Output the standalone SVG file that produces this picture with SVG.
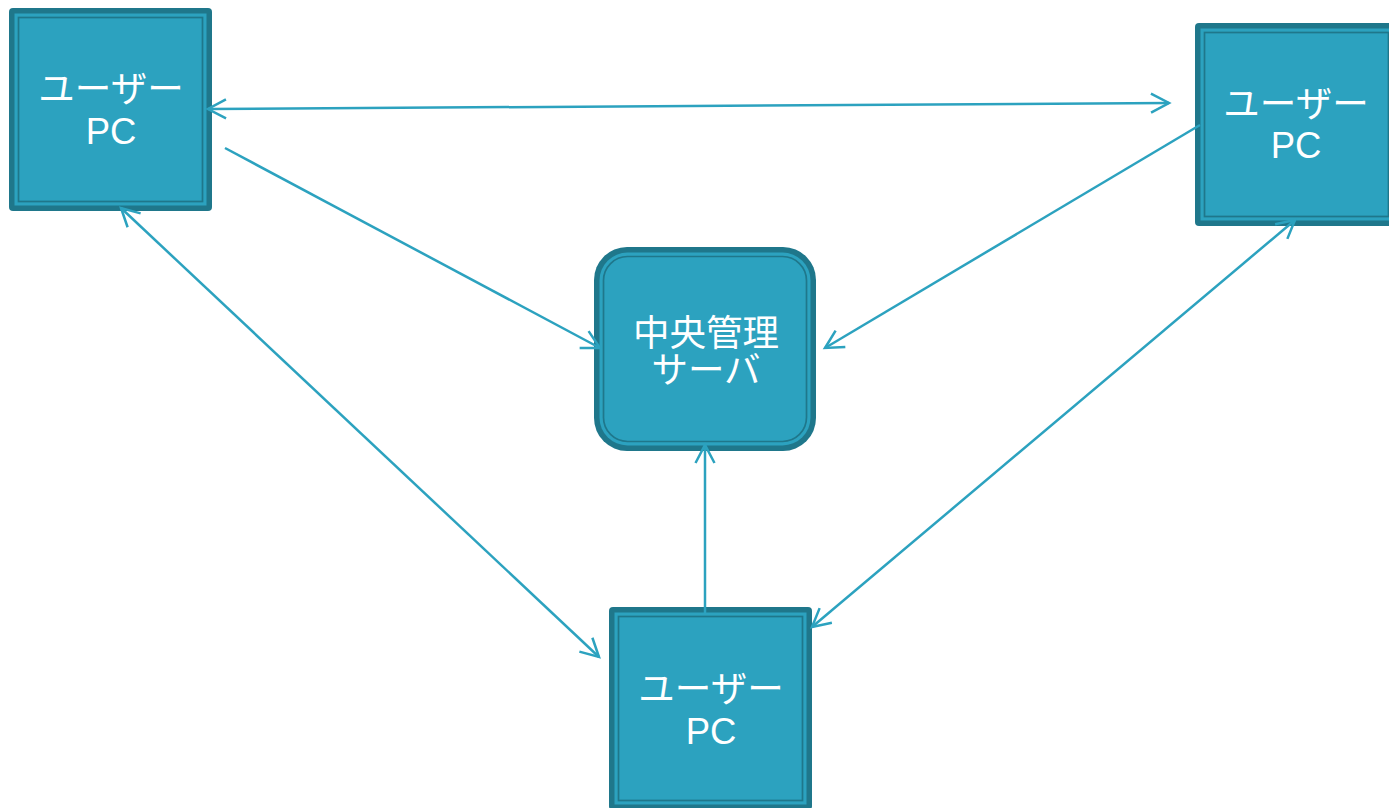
<svg xmlns="http://www.w3.org/2000/svg" width="1389" height="808" viewBox="0 0 1389 808">
<style>
.o{fill:#1f778b}
.m{fill:#2ca2bf}
.i{fill:#2ca2bf;stroke:#1f778b;stroke-width:1.7}
.t{font-family:"Liberation Sans","Noto Sans CJK JP",sans-serif;font-size:36.5px;fill:#ffffff;text-anchor:middle}
.c{fill:none;stroke:#2ca2bf;stroke-width:2.5}
</style>
<defs>
<marker id="a" viewBox="-21 -12 24 24" refX="0" refY="0" markerWidth="24" markerHeight="24" markerUnits="userSpaceOnUse" orient="auto-start-reverse">
<path d="M-18,-9.5 L0,0 L-18,9.5" fill="none" stroke="#2ca2bf" stroke-width="2.5"/>
</marker>
</defs>
<rect width="1389" height="808" fill="#ffffff"/>
<g id="pc-top-left">
<rect class="o" x="9" y="8" width="203" height="203" rx="4"/>
<rect class="m" x="14.5" y="13.5" width="192" height="192"/>
<rect class="i" x="18.5" y="17.5" width="184" height="184"/>
<text class="t" x="111" y="102">ユーザー</text>
<text class="t" x="111" y="144">PC</text>
</g>
<g id="pc-top-right">
<rect class="o" x="1195" y="23" width="203" height="203" rx="4"/>
<rect class="m" x="1200.5" y="28.5" width="192" height="192"/>
<rect class="i" x="1204.5" y="32.5" width="184" height="184"/>
<text class="t" x="1296" y="117">ユーザー</text>
<text class="t" x="1296" y="158">PC</text>
</g>
<g id="pc-bottom">
<rect class="o" x="609" y="607" width="203" height="203" rx="4"/>
<rect class="m" x="614.5" y="612.5" width="192" height="192"/>
<rect class="i" x="618.5" y="616.5" width="184" height="184"/>
<text class="t" x="711" y="702">ユーザー</text>
<text class="t" x="711" y="744">PC</text>
</g>
<g id="server">
<rect class="o" x="594" y="247" width="222" height="204" rx="33"/>
<rect class="m" x="599.5" y="252.5" width="211" height="193" rx="28"/>
<rect class="i" x="603.5" y="256.5" width="203" height="185" rx="24"/>
<text class="t" x="706" y="346">中央管理</text>
<text class="t" x="706" y="383">サーバ</text>
</g>
<g id="connectors">
<line class="c" x1="208" y1="109" x2="1169" y2="103" marker-start="url(#a)" marker-end="url(#a)"/>
<line class="c" x1="225" y1="148" x2="600" y2="348" marker-end="url(#a)"/>
<line class="c" x1="1200" y1="125" x2="825" y2="348" marker-end="url(#a)"/>
<line class="c" x1="121" y1="208" x2="599" y2="657" marker-start="url(#a)" marker-end="url(#a)"/>
<line class="c" x1="1295" y1="220" x2="812" y2="627" marker-start="url(#a)" marker-end="url(#a)"/>
<line class="c" x1="705" y1="613" x2="705" y2="445" marker-end="url(#a)"/>
</g>
</svg>
